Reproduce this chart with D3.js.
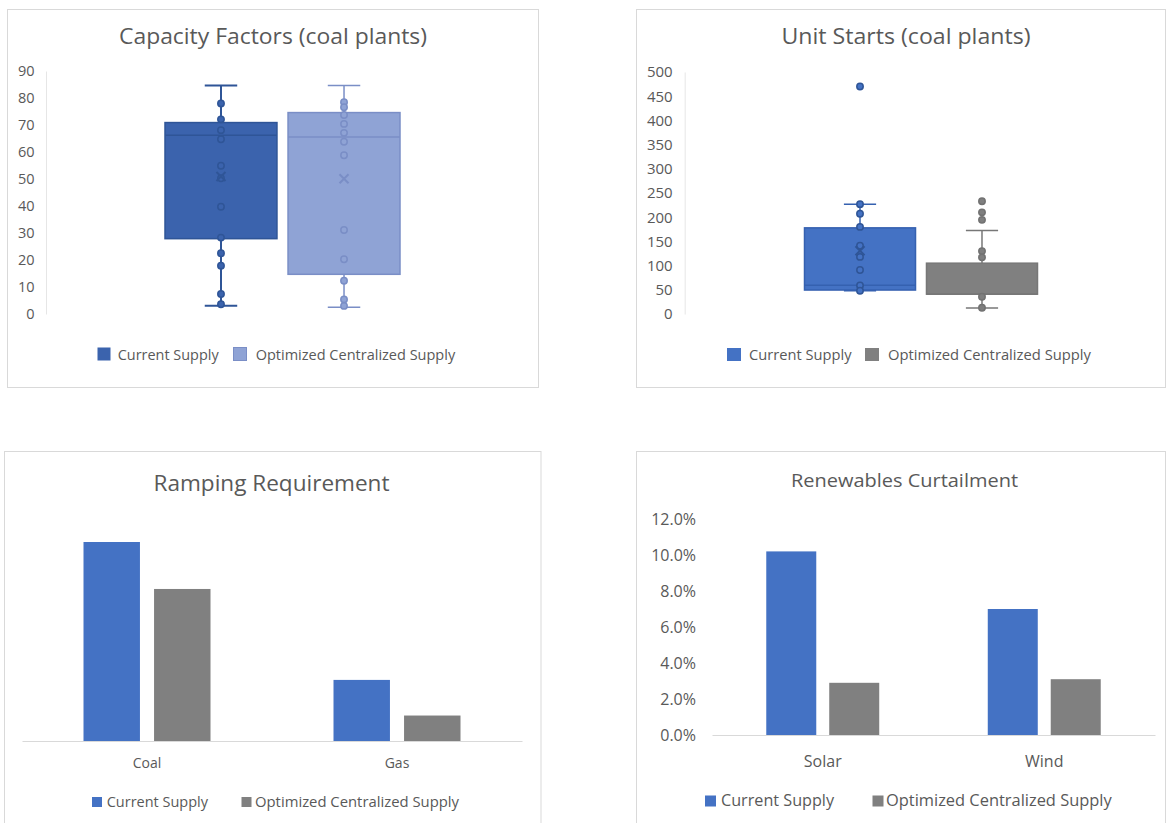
<!DOCTYPE html>
<html><head><meta charset="utf-8">
<script src="https://cdn.jsdelivr.net/npm/d3@7/dist/d3.min.js"></script>
<style>
html,body{margin:0;padding:0;background:#fff;}
svg{display:block;}
text{font-family:"Open Sans","Noto Sans",sans-serif;fill:#595959;}
</style></head><body>
<svg id="chart" width="1166" height="823"></svg>
<script>
// ---------- DATA ----------
const boxSeries = ["Current Supply", "Optimized Centralized Supply"];

// Capacity Factors (coal plants)
const cfTicks = [0, 10, 20, 30, 40, 50, 60, 70, 80, 90];
const cfMin = [3.1, 2.5];
const cfQ1 = [27.9, 14.7];
const cfMedian = [66.2, 65.6];
const cfQ3 = [70.9, 74.6];
const cfMax = [84.6, 84.6];
const cfMean = [50.9, 50.1];
const cfPointsCurrent = [78.0, 72.1, 68.1, 64.7, 54.9, 50.3, 39.7, 28.3, 22.5, 17.9, 7.4, 3.6];
const cfPointsOptimized = [78.4, 76.6, 73.7, 70.4, 67.1, 63.8, 58.8, 31.1, 20.3, 12.3, 5.4, 3.0];

// Unit Starts (coal plants)
const usTicks = [0, 50, 100, 150, 200, 250, 300, 350, 400, 450, 500];
const usMin = [48, 12.4];
const usQ1 = [49.5, 41];
const usMedian = [59.2, 41];
const usQ3 = [178, 105];
const usMax = [227, 172.6];
const usMean = [130.6, null];
const usPointsCurrent = [470, 227, 207, 180, 141, 118, 91, 59, 48];
const usPointsOptimized = [233, 210, 194.5, 130, 117, 35.7, 13];

// Ramping Requirement (relative units, no axis shown)
const rampCategories = ["Coal", "Gas"];
const rampCurrent = [100, 30.7];
const rampOptimized = [76.4, 12.8];

// Renewables Curtailment
const curtCategories = ["Solar", "Wind"];
const curtCurrent = [0.102, 0.070];
const curtOptimized = [0.029, 0.031];
const curtTicks = [0, 0.02, 0.04, 0.06, 0.08, 0.10, 0.12];

// ---------- DRAW ----------
const svg = d3.select("#chart");

const panels = [[7.5, 9.5, 531, 378], [636.5, 9.5, 529, 378], [4.5, 451.5, 536.5, 372], [636.5, 451.5, 529, 372]];
svg.selectAll("rect.panel").data(panels).join("rect").attr("class", "panel")
  .attr("x", d => d[0]).attr("y", d => d[1]).attr("width", d => d[2]).attr("height", d => d[3])
  .attr("fill", "#fff").attr("stroke", "#d9d9d9");

function title(txt, cx, y, size, len) {
  svg.append("text").attr("x", cx).attr("y", y).attr("text-anchor", "middle")
    .attr("font-size", size).attr("textLength", len).attr("lengthAdjust", "spacingAndGlyphs").text(txt);
}

function legend(items, size, baseline) {
  const g = svg.append("g");
  items.forEach(it => {
    g.append("rect").attr("x", it.sx).attr("y", it.sy).attr("width", it.sw).attr("height", it.sh)
      .attr("fill", it.color).attr("stroke", it.stroke || "none");
    g.append("text").attr("x", it.tx).attr("y", baseline).attr("font-size", size)
      .attr("textLength", it.tlen).attr("lengthAdjust", "spacingAndGlyphs").text(it.label);
  });
}

function boxPlot(o) {
  const g = svg.append("g");
  const y = d3.scaleLinear().domain([o.ticks[0], o.ticks[o.ticks.length - 1]]).range(o.yRange);
  const x = d3.scaleBand().domain(o.series).range(o.xRange).paddingInner(0.09);
  const ag = g.append("g").attr("transform", `translate(${o.axisX},0)`)
    .call(d3.axisLeft(y).tickValues(o.ticks).tickSize(0).tickSizeOuter(0).tickPadding(o.pad));
  ag.attr("font-size", o.tickFont);
  ag.select(".domain").attr("stroke", "#e6e6e6");
  o.series.forEach((s, i) => {
    const c = o.colors[i];
    const bw = x.bandwidth(), cx = x(s) + bw / 2, cap = bw * 0.29;
    const wl = (a, b) => g.append("line").attr("x1", cx).attr("x2", cx).attr("y1", y(a)).attr("y2", y(b))
      .attr("stroke", c.whisker).attr("stroke-width", c.ww);
    wl(o.max[i], o.q3[i]); wl(o.q1[i], o.min[i]);
    [o.max[i], o.min[i]].forEach(v => g.append("line").attr("x1", cx - cap / 2).attr("x2", cx + cap / 2)
      .attr("y1", y(v)).attr("y2", y(v)).attr("stroke", c.whisker).attr("stroke-width", c.ww));
    g.append("rect").attr("x", x(s)).attr("y", y(o.q3[i])).attr("width", bw)
      .attr("height", y(o.q1[i]) - y(o.q3[i])).attr("fill", c.fill).attr("stroke", c.stroke).attr("stroke-width", 1.5);
    g.append("line").attr("x1", x(s)).attr("x2", x(s) + bw).attr("y1", y(o.median[i])).attr("y2", y(o.median[i]))
      .attr("stroke", c.stroke).attr("stroke-width", 1.5);
    g.selectAll(null).data(o.points[i]).join("circle")
      .attr("cx", cx).attr("cy", d => y(d)).attr("r", 3.2)
      .attr("fill", c.pfill).attr("stroke", c.pstroke).attr("stroke-width", 1.5);
    if (o.mean[i] != null) {
      const my = y(o.mean[i]), m = 4.5;
      g.append("path").attr("d", `M${cx - m},${my - m}L${cx + m},${my + m}M${cx - m},${my + m}L${cx + m},${my - m}`)
        .attr("stroke", c.pstroke).attr("stroke-width", 2);
    }
  });
}

function barChart(o) {
  const g = svg.append("g");
  const x0 = d3.scaleBand().domain(o.cats).range(o.xRange).paddingInner(o.pad).paddingOuter(o.pad / 2);
  const x1 = d3.scaleBand().domain(o.series).range([0, x0.bandwidth()]).paddingInner(o.innerPad);
  const y = d3.scaleLinear().domain(o.domain).range(o.yRange);
  if (o.ticks) {
    const ya = g.append("g").attr("transform", `translate(${o.axisX},0)`)
      .call(d3.axisLeft(y).tickValues(o.ticks).tickFormat(d3.format(".1%")).tickSize(0).tickPadding(0));
    ya.attr("font-size", o.tickFont);
    ya.select(".domain").remove();
  }
  o.values.forEach((vals, si) => {
    g.selectAll(null).data(o.cats).join("rect")
      .attr("x", (c) => x0(c) + x1(o.series[si]))
      .attr("y", (c, ci) => y(vals[ci]))
      .attr("width", x1.bandwidth())
      .attr("height", (c, ci) => y(0) - y(vals[ci]))
      .attr("fill", o.colors[si]);
  });
  const xa = g.append("g").attr("transform", `translate(0,${y(0)})`)
    .call(d3.axisBottom(x0).tickSize(0).tickSizeOuter(0).tickPadding(o.labelPad));
  xa.attr("font-size", o.catFont);
  xa.select(".domain").attr("stroke", "#d9d9d9");
}

// Panel 1: Capacity Factors
title("Capacity Factors (coal plants)", 273, 44, 21, 308);
boxPlot({
  series: boxSeries, ticks: cfTicks, yRange: [314, 71], xRange: [165, 400], axisX: 46, pad: 11.5, tickFont: 14.5,
  min: cfMin, q1: cfQ1, median: cfMedian, q3: cfQ3, max: cfMax, mean: cfMean,
  points: [cfPointsCurrent, cfPointsOptimized],
  colors: [
    { fill: "#3b63ad", stroke: "#2f5597", whisker: "#2f5597", ww: 2, pfill: "#3b63ad", pstroke: "#2f5597" },
    { fill: "#8fa3d5", stroke: "#7a8ec6", whisker: "#7a8ec6", ww: 1.5, pfill: "#8fa3d5", pstroke: "#7a8ec6" }
  ]
});
legend([
  { label: boxSeries[0], color: "#3b63ad", sx: 97.5, sy: 347.5, sw: 13, sh: 13, tx: 117.7, tlen: 101 },
  { label: boxSeries[1], color: "#8fa3d5", stroke: "#7a8ec6", sx: 233.5, sy: 347.5, sw: 13, sh: 13, tx: 255.7, tlen: 199.5 }
], 14.5, 359.5);

// Panel 2: Unit Starts
title("Unit Starts (coal plants)", 906, 44, 21, 249);
boxPlot({
  series: boxSeries, ticks: usTicks, yRange: [314, 72], xRange: [804.5, 1037.5], axisX: 684.7, pad: 12, tickFont: 15,
  min: usMin, q1: usQ1, median: usMedian, q3: usQ3, max: usMax, mean: usMean,
  points: [usPointsCurrent, usPointsOptimized],
  colors: [
    { fill: "#4472c4", stroke: "#3561b0", whisker: "#3561b0", ww: 1.5, pfill: "#4472c4", pstroke: "#2f5597" },
    { fill: "#808080", stroke: "#777777", whisker: "#777777", ww: 1.5, pfill: "#7f7f7f", pstroke: "#727272" }
  ]
});
legend([
  { label: boxSeries[0], color: "#4472c4", sx: 727, sy: 348, sw: 14, sh: 13, tx: 749, tlen: 102.5 },
  { label: boxSeries[1], color: "#808080", sx: 865, sy: 348, sw: 14, sh: 13, tx: 888, tlen: 203 }
], 15, 359.5);

// Panel 3: Ramping Requirement
title("Ramping Requirement", 271.5, 491, 22, 236);
barChart({
  cats: rampCategories, series: boxSeries, values: [rampCurrent, rampOptimized],
  xRange: [22, 522], pad: 0.492, innerPad: 0.2, domain: [0, 120], yRange: [741, 741 - 199 * 1.2],
  colors: ["#4472c4", "#808080"], labelPad: 17, catFont: 14
});
legend([
  { label: boxSeries[0], color: "#4472c4", sx: 92, sy: 797, sw: 10, sh: 10, tx: 106.7, tlen: 101.3 },
  { label: boxSeries[1], color: "#808080", sx: 241.5, sy: 797, sw: 10, sh: 10, tx: 255, tlen: 204 }
], 14.5, 807);

// Panel 4: Renewables Curtailment
title("Renewables Curtailment", 904.5, 487, 19, 227);
barChart({
  cats: curtCategories, series: boxSeries, values: [curtCurrent, curtOptimized],
  xRange: [712, 1155], pad: 0.49, innerPad: 0.206, domain: [0, 0.12], yRange: [735, 519],
  ticks: curtTicks, axisX: 696, tickFont: 16,
  colors: ["#4472c4", "#808080"], labelPad: 20.5, catFont: 16
});
legend([
  { label: boxSeries[0], color: "#4472c4", sx: 705, sy: 795.5, sw: 11, sh: 11, tx: 721, tlen: 113 },
  { label: boxSeries[1], color: "#808080", sx: 872.5, sy: 795.5, sw: 11, sh: 11, tx: 886, tlen: 225.7 }
], 16, 806);
</script></body></html>
